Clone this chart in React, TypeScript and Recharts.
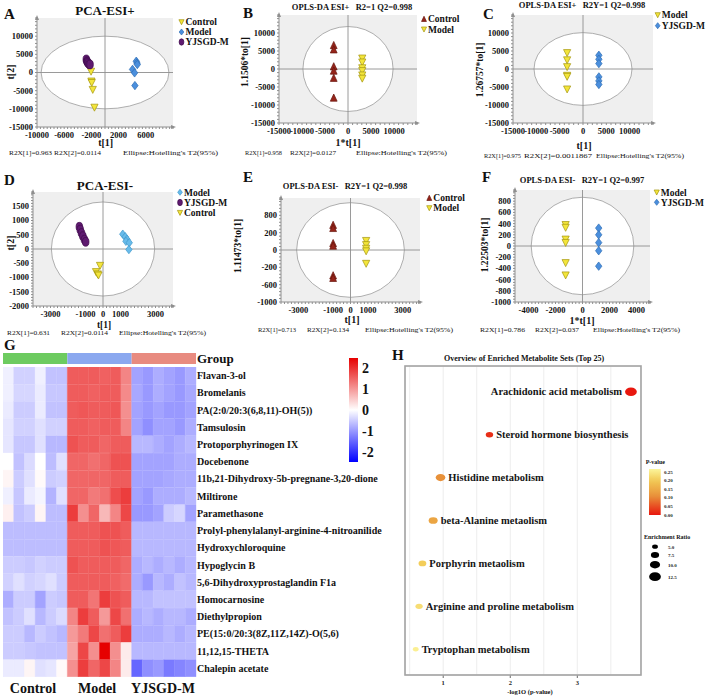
import React from "react";
import {
  Bar,
  BarChart,
  CartesianGrid,
  Cell,
  ReferenceArea,
  ReferenceLine,
  Scatter,
  ScatterChart,
  XAxis,
  YAxis,
  ZAxis,
} from "recharts";

const SERIF = "'Liberation Serif', 'Times New Roman', serif";
const AXIS_GREY = "#8f8f8f";

type Pt = { x: number; y: number };

// ---- score plots: one point per sample ----
const pcaPosControl: Pt[] = [
  { x: -2050, y: 300 }, { x: -2000, y: -2400 }, { x: -1950, y: -2800 },
  { x: -1800, y: -4700 }, { x: -1550, y: -9600 },
];
const pcaPosModel: Pt[] = [
  { x: 4600, y: 3100 }, { x: 4700, y: 2600 }, { x: 4750, y: 2200 },
  { x: 4050, y: 850 }, { x: 4350, y: -100 }, { x: 4400, y: -3600 },
];
const pcaPosYjsgd: Pt[] = [
  { x: -2750, y: 3600 }, { x: -2650, y: 3100 }, { x: -2600, y: 2900 },
  { x: -2500, y: 2600 }, { x: -2350, y: 2300 }, { x: -2200, y: 2200 },
];

const oplsPosControl: Pt[] = [
  { x: -3100, y: 6600 }, { x: -3100, y: 5400 }, { x: -3100, y: 700 },
  { x: -3100, y: -500 }, { x: -3100, y: -2500 }, { x: -3100, y: -8000 },
];
const oplsPosModel: Pt[] = [
  { x: 3100, y: 3000 }, { x: 3100, y: 1900 }, { x: 3100, y: 300 },
  { x: 3100, y: -500 }, { x: 3100, y: -1700 }, { x: 3100, y: -2600 },
];

const oplsPosModel2: Pt[] = [
  { x: -3400, y: 4500 }, { x: -3400, y: 2500 }, { x: -3400, y: 600 },
  { x: -3400, y: -1800 }, { x: -3400, y: -2100 }, { x: -3400, y: -5600 },
];
const oplsPosYjsgd: Pt[] = [
  { x: 3400, y: 3800 }, { x: 3400, y: 2700 }, { x: 3400, y: 1500 },
  { x: 3400, y: -2200 }, { x: 3400, y: -3300 }, { x: 3400, y: -4300 },
];

const pcaNegModel: Pt[] = [
  { x: 1130, y: 520 }, { x: 1270, y: 430 }, { x: 1370, y: 340 },
  { x: 1310, y: 270 }, { x: 1500, y: 220 }, { x: 1480, y: -20 },
];
const pcaNegYjsgd: Pt[] = [
  { x: -1350, y: 780 }, { x: -1300, y: 680 }, { x: -1230, y: 560 },
  { x: -1150, y: 450 }, { x: -1060, y: 330 }, { x: -990, y: 250 },
];
const pcaNegControl: Pt[] = [
  { x: -170, y: -580 }, { x: -400, y: -800 }, { x: -300, y: -880 }, { x: -260, y: -920 },
];

const oplsNegControl: Pt[] = [
  { x: -1000, y: 480 }, { x: -1000, y: 420 }, { x: -1000, y: 130 },
  { x: -1000, y: 80 }, { x: -1000, y: -490 }, { x: -1000, y: -540 },
];
const oplsNegModel: Pt[] = [
  { x: 900, y: 180 }, { x: 900, y: 100 }, { x: 900, y: 30 },
  { x: 900, y: -20 }, { x: 900, y: -260 },
];

const oplsNegModel2: Pt[] = [
  { x: -1250, y: 380 }, { x: -1250, y: 330 }, { x: -1250, y: 120 },
  { x: -1250, y: 60 }, { x: -1250, y: -300 }, { x: -1250, y: -520 },
];
const oplsNegYjsgd: Pt[] = [
  { x: 1200, y: 320 }, { x: 1200, y: 200 }, { x: 1200, y: 60 },
  { x: 1200, y: -85 }, { x: 1200, y: -360 },
];

// ---- heatmap (row z-scores, 6 samples per group) ----
const metabolites = [
  "Flavan-3-ol",
  "Bromelanis",
  "PA(2:0/20:3(6,8,11)-OH(5))",
  "Tamsulosin",
  "Protoporphyrinogen IX",
  "Docebenone",
  "11b,21-Dihydroxy-5b-pregnane-3,20-dione",
  "Miltirone",
  "Paramethasone",
  "Prolyl-phenylalanyl-arginine-4-nitroanilide",
  "Hydroxychloroquine",
  "Hypoglycin B",
  "5,6-Dihydroxyprostaglandin F1a",
  "Homocarnosine",
  "Diethylpropion",
  "PE(15:0/20:3(8Z,11Z,14Z)-O(5,6)",
  "11,12,15-THETA",
  "Chalepin acetate",
];
const groupNames = ["Control", "Model", "YJSGD-M"];
const groupColors = ["#6dcb60", "#8ba8ef", "#e88b80"];

const controlZ = [
  [-0.15, -0.45, -0.45, -0.15, -0.6, -0.6],
  [-0.15, -0.4, -0.4, -0.2, -0.55, -0.55],
  [-0.2, -0.5, -0.5, -0.2, -0.6, -0.6],
  [-0.25, -0.45, -0.45, -0.3, -0.45, -0.45],
  [-0.25, -0.55, -0.55, -0.3, -0.7, -0.7],
  [0.0, -0.6, -0.35, 0.0, -0.65, -0.3],
  [0.1, -0.5, -0.3, 0.05, -0.5, -0.45],
  [-0.15, -0.55, -0.2, -0.1, -0.75, -0.3],
  [0.15, -0.6, -0.5, 0.1, -0.65, -0.65],
  [-0.65, -0.65, -0.65, -0.65, -0.65, -0.65],
  [-0.65, -0.65, -0.65, -0.65, -0.65, -0.65],
  [-0.5, -0.5, -0.55, -0.45, -0.5, -0.5],
  [-0.45, -0.3, -0.45, -0.4, -0.3, -0.5],
  [-0.8, -0.5, -0.5, -0.9, -0.5, -0.55],
  [-0.6, -0.5, -0.3, -0.7, -0.5, -0.35],
  [-0.5, -0.5, -0.7, -0.5, -0.6, -0.7],
  [-0.5, -0.5, -0.55, -0.6, -0.6, -0.6],
  [-0.2, -0.2, 0.1, -0.3, -0.25, 0.05],
];
const modelZ = [
  [1.6, 1.6, 1.6, 1.55, 1.6, 1.2],
  [1.6, 1.6, 1.55, 1.6, 1.6, 1.15],
  [1.6, 1.65, 1.6, 1.6, 1.65, 1.1],
  [1.6, 1.6, 1.55, 1.6, 1.6, 1.2],
  [1.7, 1.6, 1.6, 1.5, 1.6, 1.6],
  [1.5, 1.5, 1.4, 1.5, 1.7, 1.7],
  [1.5, 1.5, 1.5, 1.5, 1.6, 1.6],
  [1.5, 1.5, 1.3, 1.4, 1.75, 1.9],
  [1.9, 1.1, 1.5, 0.7, 1.2, 1.8],
  [1.6, 1.6, 1.6, 1.7, 1.7, 1.6],
  [1.6, 1.6, 1.6, 1.7, 1.65, 1.6],
  [1.7, 1.6, 1.6, 1.6, 1.6, 1.5],
  [1.6, 1.6, 1.6, 1.6, 1.55, 1.45],
  [1.6, 1.6, 1.35, 1.9, 1.7, 1.6],
  [1.2, 1.9, 1.6, 1.0, 1.8, 1.4],
  [1.0, 1.3, 1.8, 1.4, 1.6, 1.9],
  [0.9, 1.8, 1.1, 2.5, 1.1, 0.2],
  [1.1, 1.9, 1.5, 1.8, 1.2, 0.2],
];
const yjsgdZ = [
  [-0.9, -1.0, -0.8, -0.9, -1.0, -0.8],
  [-0.85, -1.0, -0.8, -0.9, -1.0, -0.85],
  [-0.9, -1.0, -0.9, -1.0, -1.0, -0.9],
  [-0.9, -1.1, -0.9, -0.9, -1.0, -0.8],
  [-0.7, -0.7, -0.8, -0.9, -0.8, -0.7],
  [-0.9, -0.9, -0.9, -0.9, -0.8, -0.8],
  [-0.9, -0.9, -0.9, -0.85, -0.8, -0.8],
  [-0.9, -1.0, -0.8, -0.8, -0.8, -0.7],
  [-1.0, -1.0, -0.9, -0.5, -0.4, -0.9],
  [-0.7, -0.7, -0.7, -0.7, -0.7, -0.7],
  [-0.7, -0.7, -0.7, -0.7, -0.7, -0.7],
  [-0.8, -0.7, -0.8, -0.7, -0.8, -0.7],
  [-0.8, -1.0, -0.7, -0.8, -0.6, -0.7],
  [-0.7, -0.7, -0.6, -0.6, -0.6, -0.6],
  [-0.8, -0.7, -0.8, -0.7, -0.7, -0.8],
  [-0.8, -0.8, -0.8, -0.7, -0.8, -0.7],
  [-0.7, -0.7, -0.7, -0.7, -0.7, -0.7],
  [-1.5, -1.1, -1.0, -1.3, -1.2, -1.1],
];

// ---- pathway enrichment ----
const pathwayNames = [
  "Arachidonic acid metabolism",
  "Steroid hormone biosynthesis",
  "Histidine metabolism",
  "beta-Alanine metaolism",
  "Porphyrin metaolism",
  "Arginine and proline metabolism",
  "Tryptophan metabolism",
];
const pathwayLogP = [3.8, 1.69, 0.96, 0.85, 0.69, 0.64, 0.59];
const pathwayRatio = [13.9, 5.8, 9.5, 8.4, 6.2, 5.5, 3.7];
const pValueTicks = [0.25, 0.2, 0.15, 0.1, 0.05, 0.0];
const ratioTicks = [5, 7.5, 10, 12.5];

// ---------------------------------------------------------------------------

type Kind = "down" | "up" | "diamond" | "oval";
type Style = { kind: Kind; fill: string; stroke: string };

const YELLOW_DOWN: Style = { kind: "down", fill: "#f3e53b", stroke: "#a3950f" };
const BLUE_DIAMOND: Style = { kind: "diamond", fill: "#4b8fdd", stroke: "#2d6db5" };
const SKY_DIAMOND: Style = { kind: "diamond", fill: "#68bbea", stroke: "#3f98cc" };
const PURPLE_OVAL: Style = { kind: "oval", fill: "#5f1a70", stroke: "#3f0a4c" };
const RED_UP: Style = { kind: "up", fill: "#96241a", stroke: "#66140c" };

function Marker({ style, cx, cy, k = 1 }: { style: Style; cx: number; cy: number; k?: number }) {
  const { kind, fill, stroke } = style;
  if (kind === "oval") {
    return <ellipse cx={cx} cy={cy} rx={3.3 * k} ry={4.4 * k} fill={fill} stroke={stroke} strokeWidth={0.7} />;
  }
  let d = "";
  if (kind === "down") {
    d = `M${cx - 3.6 * k},${cy - 3.2 * k}L${cx + 3.6 * k},${cy - 3.2 * k}L${cx},${cy + 3.8 * k}Z`;
  } else if (kind === "up") {
    d = `M${cx - 3.4 * k},${cy + 3.4 * k}L${cx + 3.4 * k},${cy + 3.4 * k}L${cx},${cy - 3.8 * k}Z`;
  } else {
    d = `M${cx},${cy - 4.2 * k}L${cx + 3.2 * k},${cy}L${cx},${cy + 4.2 * k}L${cx - 3.2 * k},${cy}Z`;
  }
  return <path d={d} fill={fill} stroke={stroke} strokeWidth={0.7} />;
}

type Series = { name: string; data: Pt[]; style: Style };
type ScorePanel = {
  box: [number, number, number, number]; // plot area: left, top, width, height
  xDomain: [number, number];
  yDomain: [number, number];
  xStep: number;
  yStep: number;
  xTicks: number[];
  yTicks: number[];
  yTickText?: string[];
  ellipse: [number, number];
  series: Series[];
  legend: [number, number, number]; // icon x, first row y, row step
};

const scorePanels: ScorePanel[] = [
  {
    box: [37, 18, 136, 109],
    xDomain: [-10000, 10000],
    yDomain: [-15000, 15000],
    xStep: 500,
    yStep: 1000,
    xTicks: [-10000, -6000, -2000, 2000, 6000],
    yTicks: [-15000, -10000, -5000, 0, 5000, 10000],
    ellipse: [9400, 10000],
    series: [
      { name: "Control", data: pcaPosControl, style: YELLOW_DOWN },
      { name: "Model", data: pcaPosModel, style: BLUE_DIAMOND },
      { name: "YJSGD-M", data: pcaPosYjsgd, style: PURPLE_OVAL },
    ],
    legend: [181.5, 22, 10],
  },
  {
    box: [279, 15, 138, 108],
    xDomain: [-15000, 15000],
    yDomain: [-15000, 15000],
    xStep: 1000,
    yStep: 1000,
    xTicks: [-15000, -10000, -5000, 0, 5000, 10000],
    yTicks: [-15000, -10000, -5000, 0, 5000, 10000],
    ellipse: [9800, 11800],
    series: [
      { name: "Control", data: oplsPosControl, style: RED_UP },
      { name: "Model", data: oplsPosModel, style: YELLOW_DOWN },
    ],
    legend: [424, 19, 10.3],
  },
  {
    box: [513, 15, 140, 108],
    xDomain: [-15000, 15000],
    yDomain: [-15000, 15000],
    xStep: 1000,
    yStep: 1000,
    xTicks: [-15000, -10000, -5000, 0, 5000, 10000],
    yTicks: [-15000, -10000, -5000, 0, 5000, 10000],
    ellipse: [10500, 10100],
    series: [
      { name: "Model", data: oplsPosModel2, style: YELLOW_DOWN },
      { name: "YJSGD-M", data: oplsPosYjsgd, style: BLUE_DIAMOND },
    ],
    legend: [657.7, 15, 10.7],
  },
  {
    box: [33, 192, 140, 114],
    xDomain: [-4000, 4000],
    yDomain: [-2000, 2000],
    xStep: 200,
    yStep: 100,
    xTicks: [-3000, -1000, 0, 1000, 3000],
    yTicks: [-2000, -1500, -1000, -500, 0, 500, 1000, 1500],
    ellipse: [2950, 1650],
    series: [
      { name: "Model", data: pcaNegModel, style: SKY_DIAMOND },
      { name: "YJSGD-M", data: pcaNegYjsgd, style: PURPLE_OVAL },
      { name: "Control", data: pcaNegControl, style: YELLOW_DOWN },
    ],
    legend: [180, 192.3, 10.2],
  },
  {
    box: [281, 198, 139, 104],
    xDomain: [-4000, 4000],
    yDomain: [-1000, 1000],
    xStep: 200,
    yStep: 2000 / 30,
    xTicks: [-3000, -1000, 0, 1000, 3000],
    yTicks: [-1000, -2000 / 3, -1000 / 3, 0, 1000 / 3, 2000 / 3],
    yTickText: ["-1000", "-600", "-200", "0", "200", "800"],
    ellipse: [3100, 910],
    series: [
      { name: "Control", data: oplsNegControl, style: RED_UP },
      { name: "Model", data: oplsNegModel, style: YELLOW_DOWN },
    ],
    legend: [429.3, 198, 10],
  },
  {
    box: [515, 190, 135, 112],
    xDomain: [-5000, 5000],
    yDomain: [-1000, 1000],
    xStep: 250,
    yStep: 50,
    xTicks: [-4000, -2000, 0, 2000, 4000],
    yTicks: [-1000, -800, -600, -400, -200, 0, 200, 400, 600, 800],
    ellipse: [3800, 870],
    series: [
      { name: "Model", data: oplsNegModel2, style: YELLOW_DOWN },
      { name: "YJSGD-M", data: oplsNegYjsgd, style: BLUE_DIAMOND },
    ],
    legend: [656.7, 192.3, 10],
  },
];

function tickList(domain: [number, number], step: number, majors: number[]) {
  const out: number[] = [];
  for (let v = domain[0]; v <= domain[1] + 1e-6; v += step) out.push(Math.round(v * 1000) / 1000);
  majors.forEach((m) => {
    if (!out.some((v) => Math.abs(v - m) < 1e-3)) out.push(m);
  });
  return out.sort((a, b) => a - b);
}

const makeTick = (axis: "x" | "y", majors: number[], texts?: string[]) => (props: any) => {
  const { x, y, payload } = props;
  const i = majors.findIndex((m) => Math.abs(m - payload.value) < 1e-3);
  if (i < 0) return <g />;
  const label = texts ? texts[i] : String(majors[i]);
  return (
    <text
      x={x}
      y={y}
      dy={axis === "x" ? "0.71em" : "0.35em"}
      textAnchor={axis === "x" ? "middle" : "end"}
      fontFamily={SERIF}
      fontWeight="bold"
      fontSize={8.5}
      fill="#111"
    >
      {label}
    </text>
  );
};

const EllipseShape = (p: any) => (
  <ellipse
    cx={p.x + p.width / 2}
    cy={p.y + p.height / 2}
    rx={Math.abs(p.width) / 2}
    ry={Math.abs(p.height) / 2}
    fill="#ffffff"
    stroke="#9a9a9a"
    strokeWidth={0.8}
  />
);

function ScorePlot({ panel }: { panel: ScorePanel }) {
  const [L, T, W, H] = panel.box;
  const xs = tickList(panel.xDomain, panel.xStep, panel.xTicks);
  const ys = tickList(panel.yDomain, panel.yStep, panel.yTicks);
  const [rx, ry] = panel.ellipse;
  return (
    <div style={{ position: "absolute", left: L - 50, top: T - 5 }}>
      <ScatterChart width={W + 60} height={H + 30} margin={{ top: 5, right: 10, bottom: 0, left: 0 }}>
        <CartesianGrid horizontal={false} vertical={false} fill="#efefef" stroke="none" />
        <XAxis
          type="number"
          dataKey="x"
          domain={panel.xDomain}
          ticks={xs}
          interval={0}
          allowDataOverflow
          height={25}
          axisLine={{ stroke: AXIS_GREY }}
          tickLine={{ stroke: AXIS_GREY }}
          tickSize={2}
          tickMargin={3}
          tick={makeTick("x", panel.xTicks)}
        />
        <YAxis
          type="number"
          dataKey="y"
          domain={panel.yDomain}
          ticks={ys}
          interval={0}
          allowDataOverflow
          width={50}
          axisLine={{ stroke: AXIS_GREY }}
          tickLine={{ stroke: AXIS_GREY }}
          tickSize={2}
          tickMargin={2}
          tick={makeTick("y", panel.yTicks, panel.yTickText)}
        />
        <ReferenceArea x1={-rx} x2={rx} y1={-ry} y2={ry} shape={EllipseShape} ifOverflow="visible" />
        <ReferenceLine x={0} stroke={AXIS_GREY} strokeWidth={0.9} />
        <ReferenceLine y={0} stroke={AXIS_GREY} strokeWidth={0.9} />
        {panel.series.map((s) => (
          <Scatter
            key={s.name}
            name={s.name}
            data={s.data}
            isAnimationActive={false}
            shape={(p: any) => <Marker style={s.style} cx={p.cx} cy={p.cy} />}
          />
        ))}
      </ScatterChart>
    </div>
  );
}

// ---- heatmap ----

function heatColor(v: number) {
  if (v >= 0) {
    const f = Math.min(v / 2.5, 1);
    return `rgb(${Math.round(255 - 25 * f)},${Math.round(255 - 255 * f)},${Math.round(255 - 255 * f)})`;
  }
  const f = Math.min(-v / 2.5, 1);
  return `rgb(${Math.round(255 - 255 * f)},${Math.round(255 - 255 * f)},255)`;
}

const heatRows = metabolites.map((name, r) => ({
  name,
  z: [...controlZ[r], ...modelZ[r], ...yjsgdZ[r]],
}));
const sampleCount = heatRows[0].z.length;
const groupSizes = [controlZ[0].length, modelZ[0].length, yjsgdZ[0].length];

const HeatLabel = (props: any) => (
  <text x={props.x} y={props.y} dy="0.35em" textAnchor="start" fontFamily={SERIF} fontWeight="bold" fontSize={10} fill="#111">
    {props.payload.value}
  </text>
);

function Heatmap() {
  return (
    <div style={{ position: "absolute", left: 3, top: 366.7 }}>
      <BarChart
        layout="vertical"
        width={193 + 230}
        height={310}
        data={heatRows}
        margin={{ top: 0, right: 0, bottom: 0, left: 0 }}
        barCategoryGap={0}
      >
        <XAxis type="number" hide domain={[0, sampleCount]} />
        <YAxis
          type="category"
          dataKey="name"
          orientation="right"
          width={230}
          axisLine={false}
          tickLine={false}
          tickSize={0}
          tickMargin={1}
          interval={0}
          tick={HeatLabel}
        />
        {Array.from({ length: sampleCount }, (_, c) => (
          <Bar key={c} dataKey={() => 1} stackId="samples" isAnimationActive={false}>
            {heatRows.map((row, r) => (
              <Cell key={r} fill={heatColor(row.z[c])} stroke={heatColor(row.z[c])} strokeWidth={0.4} />
            ))}
          </Bar>
        ))}
      </BarChart>
    </div>
  );
}

function GroupStrip() {
  return (
    <div style={{ position: "absolute", left: 3, top: 353.3 }}>
      <BarChart
        layout="vertical"
        width={193}
        height={11}
        data={[{ name: "Group" }]}
        margin={{ top: 0, right: 0, bottom: 0, left: 0 }}
        barCategoryGap={0}
      >
        <XAxis type="number" hide domain={[0, sampleCount]} />
        <YAxis type="category" dataKey="name" hide />
        {groupNames.map((g, i) => (
          <Bar key={g} dataKey={() => groupSizes[i]} stackId="g" fill={groupColors[i]} isAnimationActive={false} />
        ))}
      </BarChart>
    </div>
  );
}

// ---- enrichment bubble plot ----

const P_STOPS: [number, [number, number, number]][] = [
  [0, [232, 23, 15]],
  [0.11, [232, 145, 58]],
  [0.2, [242, 202, 85]],
  [0.27, [253, 248, 160]],
];
function pColor(p: number) {
  if (p <= P_STOPS[0][0]) return `rgb(${P_STOPS[0][1].join(",")})`;
  for (let i = 1; i < P_STOPS.length; i++) {
    const [p1, c1] = P_STOPS[i];
    const [p0, c0] = P_STOPS[i - 1];
    if (p <= p1) {
      const f = (p - p0) / (p1 - p0);
      return `rgb(${c0.map((c, j) => Math.round(c + (c1[j] - c) * f)).join(",")})`;
    }
  }
  return `rgb(${P_STOPS[P_STOPS.length - 1][1].join(",")})`;
}

const Z_DOMAIN: [number, number] = [5, 12.5];
const Z_RANGE: [number, number] = [14.6, 59.6];
const ratioRadius = (r: number) =>
  Math.sqrt((Z_RANGE[0] + ((r - Z_DOMAIN[0]) * (Z_RANGE[1] - Z_RANGE[0])) / (Z_DOMAIN[1] - Z_DOMAIN[0])) / Math.PI);

const pathwayPoints = pathwayNames.map((name, i) => ({
  name,
  x: pathwayLogP[i],
  y: i,
  z: pathwayRatio[i],
  p: Math.pow(10, -pathwayLogP[i]),
}));

const PathwayDot = (props: any) => {
  const { cx, cy, width, payload } = props;
  const r = (width ?? 2 * ratioRadius(payload.z)) / 2;
  const rx = r * 1.35;
  const left = payload.x > 3;
  return (
    <g>
      <ellipse cx={cx} cy={cy} rx={rx} ry={r} fill={pColor(payload.p)} />
      <text
        x={left ? cx - rx - 3 : cx + rx + 3}
        y={cy}
        dy="0.35em"
        textAnchor={left ? "end" : "start"}
        fontFamily={SERIF}
        fontWeight="bold"
        fontSize={10.5}
        fill="#151515"
      >
        {payload.name}
      </text>
    </g>
  );
};

const EnrichTick = (props: any) => {
  const { x, y, payload } = props;
  if (!Number.isInteger(payload.value)) return <g />;
  return (
    <g>
      <line x1={x} x2={x} y1={y - 6} y2={y - 3} stroke="#444" strokeWidth={0.8} />
      <text x={x} y={y} dy="0.6em" textAnchor="middle" fontFamily={SERIF} fontWeight="bold" fontSize={6.5} fill="#222">
        {payload.value}
      </text>
    </g>
  );
};

function EnrichmentPlot() {
  return (
    <div style={{ position: "absolute", left: 395, top: 366 }}>
      <ScatterChart width={10 + 236} height={309 + 22} margin={{ top: 0, right: 0, bottom: 0, left: 0 }}>
        <CartesianGrid stroke="#e9e9e9" strokeWidth={0.8} />
        <XAxis
          type="number"
          dataKey="x"
          domain={[0.43, 3.95]}
          ticks={[0.5, 1, 1.5, 2, 2.5, 3, 3.5]}
          interval={0}
          allowDataOverflow
          height={22}
          axisLine={false}
          tickLine={false}
          tickSize={3}
          tickMargin={3}
          tick={EnrichTick}
        />
        <YAxis
          type="number"
          dataKey="y"
          domain={[-0.6, 6.6]}
          reversed
          ticks={[0, 1, 2, 3, 4, 5, 6]}
          interval={0}
          width={10}
          axisLine={false}
          tickLine={{ stroke: "#444", strokeWidth: 0.8 }}
          tickSize={3}
          tick={false}
        />
        <ZAxis type="number" dataKey="z" domain={Z_DOMAIN} range={Z_RANGE} />
        <Scatter data={pathwayPoints} shape={PathwayDot} isAnimationActive={false} />
      </ScatterChart>
    </div>
  );
}

// ---- text, legends and decorations ----

type TextItem = {
  x: number;
  y: number;
  t: string;
  s: number;
  b?: boolean;
  a?: "start" | "middle" | "end";
  rot?: boolean;
  w?: number; // stretched width
};

const texts: TextItem[] = [
  // A
  { x: 4, y: 18.5, t: "A", s: 15, b: true },
  { x: 105, y: 15, t: "PCA-ESI+", s: 13, b: true, a: "middle" },
  { x: 105.7, y: 146, t: "t[1]", s: 10, b: true, a: "middle" },
  { x: 10, y: 72, t: "t[2]", s: 10, b: true, a: "middle", rot: true },
  { x: 9, y: 155, t: "R2X[1]=0.963", s: 7, w: 43 },
  { x: 54, y: 155, t: "R2X[2]=0.0114", s: 7, w: 47 },
  { x: 123, y: 155, t: "Ellipse:Hotelling's T2(95%)", s: 7, w: 95 },
  // B
  { x: 243, y: 18.3, t: "B", s: 15, b: true },
  { x: 352, y: 9.5, t: "OPLS-DA ESI+   R2=1 Q2=0.998", s: 8.5, b: true, a: "middle" },
  { x: 348, y: 146, t: "1*t[1]", s: 10, b: true, a: "middle" },
  { x: 245, y: 62, t: "1.1506*to[1]", s: 9.5, b: true, a: "middle", rot: true },
  { x: 245, y: 155, t: "R2X[1]=0.958", s: 7, w: 37 },
  { x: 290, y: 155, t: "R2X[2]=0.0127", s: 7, w: 46 },
  { x: 356, y: 155, t: "Ellipse:Hotelling's T2(95%)", s: 7, w: 91 },
  // C
  { x: 483, y: 19, t: "C", s: 15, b: true },
  { x: 582, y: 8, t: "OPLS-DA ESI+   R2Y=1 Q2=0.998", s: 8.5, b: true, a: "middle" },
  { x: 584, y: 148.5, t: "t[1]", s: 10, b: true, a: "middle" },
  { x: 480, y: 70, t: "1.26757*to[1]", s: 9.5, b: true, a: "middle", rot: true },
  { x: 484, y: 157.5, t: "R2X[1]=0.975", s: 7, w: 37 },
  { x: 524, y: 157.5, t: "R2X[2]=0.0011867", s: 7, w: 68 },
  { x: 596, y: 157.5, t: "Ellipse:Hotelling's T2(95%)", s: 7, w: 88 },
  // D
  { x: 4, y: 185, t: "D", s: 15, b: true },
  { x: 105, y: 190, t: "PCA-ESI-", s: 13, b: true, a: "middle" },
  { x: 104, y: 327.5, t: "t[1]", s: 9.5, b: true, a: "middle" },
  { x: 10, y: 243, t: "t[2]", s: 10, b: true, a: "middle", rot: true },
  { x: 7, y: 334.5, t: "R2X[1]=0.631", s: 7, w: 43 },
  { x: 61, y: 334.5, t: "R2X[2]=0.0114", s: 7, w: 47 },
  { x: 119, y: 334.5, t: "Ellipse:Hotelling's T2(95%)", s: 7, w: 87 },
  // E
  { x: 243, y: 182, t: "E", s: 15, b: true },
  { x: 345, y: 188.5, t: "OPLS-DA ESI-   R2Y=1 Q2=0.998", s: 8.5, b: true, a: "middle" },
  { x: 352, y: 322.5, t: "t[1]", s: 10, b: true, a: "middle" },
  { x: 238, y: 246, t: "1.11473*to[1]", s: 9.5, b: true, a: "middle", rot: true },
  { x: 258, y: 331.5, t: "R2X[1]=0.713", s: 7, w: 38 },
  { x: 307, y: 331.5, t: "R2X[2]=0.134", s: 7, w: 42 },
  { x: 365, y: 331.5, t: "Ellipse:Hotelling's T2(95%)", s: 7, w: 88 },
  // F
  { x: 482, y: 182, t: "F", s: 15, b: true },
  { x: 582, y: 183, t: "OPLS-DA ESI-   R2Y=1 Q2=0.997", s: 8.5, b: true, a: "middle" },
  { x: 582, y: 324, t: "1*t[1]", s: 10, b: true, a: "middle" },
  { x: 485, y: 245, t: "1.22503*to[1]", s: 9.5, b: true, a: "middle", rot: true },
  { x: 480, y: 332, t: "R2X[1]=0.786", s: 7, w: 45 },
  { x: 535, y: 332, t: "R2X[2]=0.037", s: 7, w: 44 },
  { x: 593, y: 332, t: "Ellipse:Hotelling's T2(95%)", s: 7, w: 87 },
  // G
  { x: 4, y: 350, t: "G", s: 15, b: true },
  { x: 197, y: 363, t: "Group", s: 13, b: true },
  { x: 33, y: 692.5, t: groupNames[0], s: 14, b: true, a: "middle" },
  { x: 97, y: 692.5, t: groupNames[1], s: 14, b: true, a: "middle" },
  { x: 163, y: 692.5, t: groupNames[2], s: 14, b: true, a: "middle" },
  // H
  { x: 392, y: 359.5, t: "H", s: 15, b: true },
  { x: 524, y: 361, t: "Overview of Enriched Metabolite Sets (Top 25)", s: 8, b: true, a: "middle" },
  { x: 530, y: 694, t: "-log1O (p-value)", s: 6.5, b: true, a: "middle" },
  { x: 645.7, y: 464, t: "P-value", s: 6, b: true },
  { x: 644, y: 539, t: "Enrichment Ratio", s: 6, b: true },
];

const HEAT_BAR = { x: 349, y: 358, w: 9, h: 104, max: 2.5 };
const P_BAR = { x: 649, y: 469, w: 11.7, h: 46, max: 0.266 };

function Overlay() {
  const heatStops = Array.from({ length: 11 }, (_, i) => HEAT_BAR.max - (i * 2 * HEAT_BAR.max) / 10);
  const pStops = Array.from({ length: 11 }, (_, i) => P_BAR.max - (i * P_BAR.max) / 10);
  return (
    <svg width={708} height={697} style={{ position: "absolute", left: 0, top: 0, pointerEvents: "none" }}>
      <defs>
        <linearGradient id="heatGrad" x1="0" y1="0" x2="0" y2="1">
          {heatStops.map((v, i) => (
            <stop key={i} offset={i / 10} stopColor={heatColor(v)} />
          ))}
        </linearGradient>
        <linearGradient id="pGrad" x1="0" y1="0" x2="0" y2="1">
          {pStops.map((v, i) => (
            <stop key={i} offset={i / 10} stopColor={pColor(v)} />
          ))}
        </linearGradient>
      </defs>

      {/* axis arrow heads */}
      {scorePanels.map((p, i) => {
        const [L, T, W, H] = p.box;
        return (
          <g key={i} fill={AXIS_GREY}>
            <path d={`M${L - 2},${T + 2}L${L + 2},${T + 2}L${L},${T - 3}Z`} />
            <path d={`M${L + W - 2},${T + H - 2}L${L + W - 2},${T + H + 2}L${L + W + 3},${T + H}Z`} />
          </g>
        );
      })}

      {/* score plot legends */}
      {scorePanels.map((p, i) =>
        p.series.map((s, j) => {
          const cy = p.legend[1] + j * p.legend[2];
          return (
            <g key={`${i}-${j}`}>
              <Marker style={s.style} cx={p.legend[0]} cy={cy} k={0.72} />
              <text x={p.legend[0] + 4} y={cy + 3.3} fontFamily={SERIF} fontWeight="bold" fontSize={9.5} fill="#111">
                {s.name}
              </text>
            </g>
          );
        })
      )}

      {/* heatmap colour key */}
      <rect x={HEAT_BAR.x} y={HEAT_BAR.y} width={HEAT_BAR.w} height={HEAT_BAR.h} fill="url(#heatGrad)" />
      {[2, 1, 0, -1, -2].map((v) => (
        <text
          key={v}
          x={362}
          y={HEAT_BAR.y + ((HEAT_BAR.max - v) / (2 * HEAT_BAR.max)) * HEAT_BAR.h + 5}
          fontFamily={SERIF}
          fontWeight="bold"
          fontSize={14}
          fill="#111"
        >
          {v}
        </text>
      ))}

      {/* enrichment frame and legends */}
      <rect x={405} y={366} width={236} height={309} fill="none" stroke="#a3a3a3" strokeWidth={1.6} />
      <rect x={P_BAR.x} y={P_BAR.y} width={P_BAR.w} height={P_BAR.h} fill="url(#pGrad)" />
      {pValueTicks.map((v) => (
        <text
          key={v}
          x={664}
          y={P_BAR.y + P_BAR.h - (v / 0.25) * 43.3 + 1.8}
          fontFamily={SERIF}
          fontWeight="bold"
          fontSize={5}
          fill="#222"
        >
          {v.toFixed(2)}
        </text>
      ))}
      {ratioTicks.map((v, i) => {
        const cy = [546.7, 555, 564.7, 576.7][i];
        const r = ratioRadius(v);
        return (
          <g key={v}>
            <ellipse cx={655} cy={cy} rx={r * 1.35} ry={r} fill="#000" />
            <text x={668} y={cy + 1.8} fontFamily={SERIF} fontWeight="bold" fontSize={5} fill="#222">
              {v.toFixed(1)}
            </text>
          </g>
        );
      })}

      {texts.map((t, i) => (
        <text
          key={i}
          x={t.x}
          y={t.y}
          textAnchor={t.a ?? "start"}
          dominantBaseline={t.rot ? "central" : undefined}
          transform={t.rot ? `rotate(-90 ${t.x} ${t.y})` : undefined}
          textLength={t.w}
          lengthAdjust={t.w ? "spacingAndGlyphs" : undefined}
          fontFamily={SERIF}
          fontWeight={t.b ? "bold" : "normal"}
          fontSize={t.s}
          fill="#111"
          style={{ whiteSpace: "pre" }}
        >
          {t.t}
        </text>
      ))}
    </svg>
  );
}

export default function App() {
  return (
    <div
      style={{
        position: "absolute",
        left: 0,
        top: 0,
        width: 708,
        height: 697,
        background: "#fff",
        overflow: "hidden",
      }}
    >
      {scorePanels.map((p, i) => (
        <ScorePlot key={i} panel={p} />
      ))}
      <GroupStrip />
      <Heatmap />
      <EnrichmentPlot />
      <Overlay />
    </div>
  );
}
